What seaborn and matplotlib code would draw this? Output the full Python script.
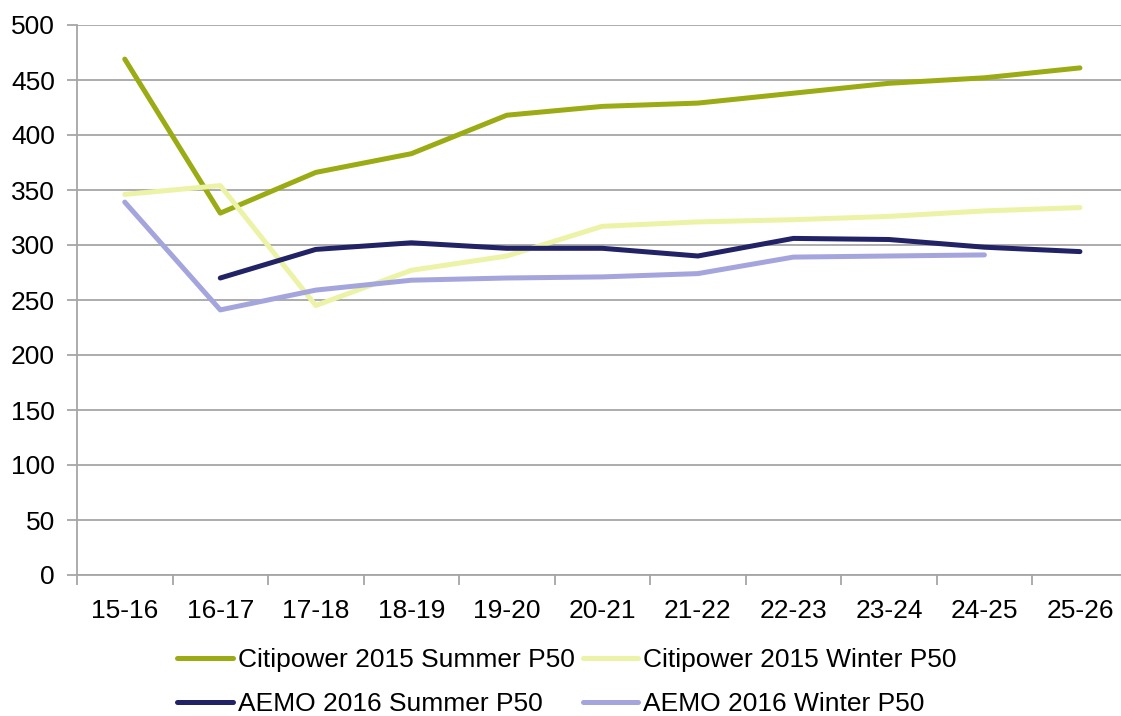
import numpy as np
import pandas as pd
import seaborn as sns
import matplotlib.pyplot as plt
from matplotlib.ticker import FixedLocator

years = ['15-16', '16-17', '17-18', '18-19', '19-20', '20-21',
         '21-22', '22-23', '23-24', '24-25', '25-26']
citi_summer = [469, 329, 366, 383, 418, 426, 429, 438, 447, 452, 461]
citi_winter = [346, 354, 245, 277, 290, 317, 321, 323, 326, 331, 334]
aemo_summer = [np.nan, 270, 296, 302, 297, 297, 290, 306, 305, 298, 294]
aemo_winter = [339, 241, 259, 268, 270, 271, 274, 289, 290, 291, np.nan]

names = ['Citipower 2015 Summer P50', 'Citipower 2015 Winter P50',
         'AEMO 2016 Summer P50', 'AEMO 2016 Winter P50']
colors = ['#9aab14', '#ecf3a6', '#222266', '#a5a5de']

frames = []
for name, vals in zip(names, [citi_summer, citi_winter, aemo_summer, aemo_winter]):
    frames.append(pd.DataFrame({'year': years, 'value': vals, 'series': name}))
df = pd.concat(frames).dropna()

sns.set_style('white')
plt.rcParams['font.family'] = ['Liberation Sans', 'DejaVu Sans']
plt.rcParams['text.color'] = 'black'

fig = plt.figure(figsize=(11.21, 7.16), dpi=100)
ax = fig.add_axes([77 / 1121, 1 - 575 / 716, (1121 - 77) / 1121, (575 - 25) / 716])

sns.lineplot(data=df, x='year', y='value', hue='series', hue_order=names,
             palette=colors, linewidth=3.6, sort=False, ax=ax)

ax.set_ylim(0, 500)
ax.set_xlim(-0.5, 10.43)
ax.set_yticks(range(0, 501, 50))
ax.set_xticks(range(len(years)))
ax.set_xticklabels(years)
ax.xaxis.set_minor_locator(FixedLocator(np.arange(-0.5, 11, 1.0)))
ax.grid(axis='y', color='#a6a6a6', linewidth=1.3)
ax.set_axisbelow(True)
ax.set_xlabel('')
ax.set_ylabel('')

for s in ['top', 'right']:
    ax.spines[s].set_visible(False)
for s in ['left', 'bottom']:
    ax.spines[s].set_color('#a6a6a6')
    ax.spines[s].set_linewidth(1.3)

ax.tick_params(axis='y', which='major', length=7, width=1.3, color='#a6a6a6',
               labelsize=19, labelcolor='black', pad=9, left=True)
ax.tick_params(axis='x', which='major', length=0, labelsize=19,
               labelcolor='black', pad=17)
ax.tick_params(axis='x', which='minor', length=7, width=1.3, color='#a6a6a6',
               bottom=True)

# row-major legend order like the original
handles, labels = ax.get_legend_handles_labels()
ax.legend_.remove()
order = [0, 2, 1, 3]
fig.legend([handles[i] for i in order], [labels[i] for i in order], ncol=2,
           loc='center', bbox_to_anchor=(567 / 1121, 1 - 682 / 716),
           frameon=False, fontsize=19, handlelength=2.1, handletextpad=0.2,
           columnspacing=0.3, labelspacing=0.75, labelcolor='black')

fig.savefig('out.png', dpi=100)
